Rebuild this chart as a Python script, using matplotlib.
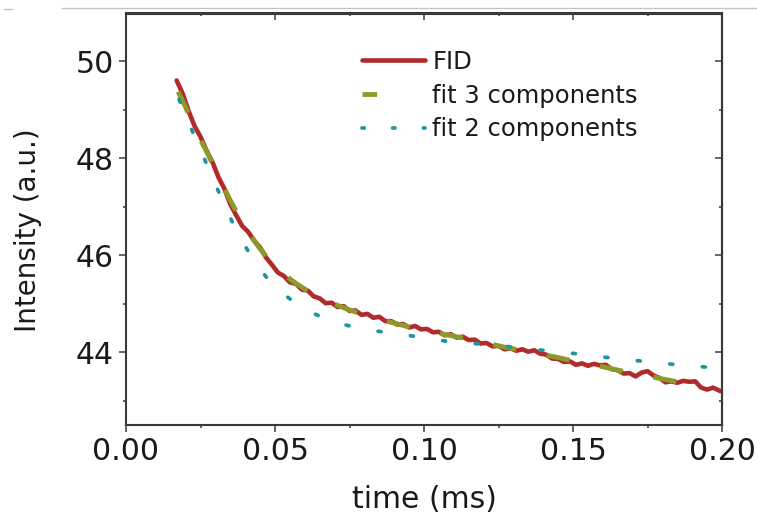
import matplotlib
matplotlib.use("Agg")
import matplotlib.pyplot as plt
from matplotlib.lines import Line2D
from matplotlib.ticker import MultipleLocator, FormatStrFormatter

# ---------------- data ----------------
t_fid = [0.017, 0.019, 0.021, 0.023, 0.025, 0.027, 0.029, 0.031, 0.033, 0.035,
         0.037, 0.039, 0.041, 0.043, 0.045, 0.047, 0.049, 0.051, 0.053, 0.055,
         0.057, 0.059, 0.061, 0.063, 0.065, 0.067, 0.069, 0.071, 0.073, 0.075,
         0.077, 0.079, 0.081, 0.083, 0.085, 0.087, 0.089, 0.091, 0.093, 0.095,
         0.097, 0.099, 0.101, 0.103, 0.105, 0.107, 0.109, 0.111, 0.113, 0.115,
         0.117, 0.119, 0.121, 0.123, 0.125, 0.127, 0.129, 0.131, 0.133, 0.135,
         0.137, 0.139, 0.141, 0.143, 0.145, 0.147, 0.149, 0.151, 0.153, 0.155,
         0.157, 0.159, 0.161, 0.163, 0.165, 0.167, 0.169, 0.171, 0.173, 0.175,
         0.177, 0.179, 0.181, 0.183, 0.185, 0.187, 0.189, 0.191, 0.193, 0.195,
         0.197, 0.199, 0.200]
fid = [49.60, 49.33, 48.97, 48.66, 48.44, 48.16, 47.92, 47.61, 47.37, 47.05,
       46.82, 46.60, 46.48, 46.30, 46.16, 45.95, 45.80, 45.64, 45.57, 45.44,
       45.41, 45.29, 45.27, 45.15, 45.11, 45.01, 45.02, 44.93, 44.95, 44.85,
       44.86, 44.77, 44.79, 44.71, 44.73, 44.64, 44.64, 44.57, 44.58, 44.51,
       44.54, 44.47, 44.48, 44.41, 44.42, 44.35, 44.37, 44.30, 44.32, 44.25,
       44.26, 44.18, 44.19, 44.12, 44.13, 44.06, 44.08, 44.03, 44.06, 44.01,
       44.04, 43.97, 43.95, 43.87, 43.86, 43.80, 43.81, 43.74, 43.77, 43.72,
       43.76, 43.73, 43.74, 43.65, 43.63, 43.56, 43.57, 43.50, 43.58, 43.61,
       43.52, 43.47, 43.38, 43.40, 43.37, 43.41, 43.39, 43.40, 43.27, 43.23,
       43.27, 43.21, 43.19]

t_fit3 = [0.0175, 0.020, 0.0225, 0.025, 0.0275, 0.030, 0.0325, 0.035, 0.0375, 0.040,
          0.0425, 0.045, 0.0475, 0.050, 0.0525, 0.055, 0.0575, 0.060, 0.0625, 0.065,
          0.0675, 0.070, 0.0725, 0.075, 0.0775, 0.080, 0.085, 0.090, 0.095, 0.100,
          0.105, 0.110, 0.115, 0.120, 0.125, 0.130, 0.135, 0.140, 0.145, 0.150,
          0.155, 0.160, 0.165, 0.170, 0.175, 0.180, 0.185, 0.190]
fit3 = [49.37, 49.05, 48.70, 48.38, 48.08, 47.76, 47.44, 47.13, 46.85, 46.58,
        46.34, 46.13, 45.94, 45.77, 45.63, 45.51, 45.40, 45.30, 45.21, 45.13,
        45.06, 44.99, 44.93, 44.87, 44.82, 44.77, 44.68, 44.60, 44.52, 44.45,
        44.39, 44.33, 44.27, 44.20, 44.13, 44.07, 44.01, 43.95, 43.89, 43.82,
        43.76, 43.70, 43.63, 43.57, 43.51, 43.45, 43.39, 43.33]

t_fit2 = [0.0178, 0.0215, 0.0254, 0.0293, 0.0332, 0.0373, 0.0427, 0.0494, 0.0593,
          0.0687, 0.0783, 0.0880, 0.0978, 0.1070, 0.1168, 0.1263, 0.1359, 0.1454,
          0.1549, 0.1644, 0.1741, 0.1837, 0.1934, 0.200]
fit2 = [49.21, 48.66, 48.12, 47.55, 47.02, 46.46, 45.91, 45.36, 44.90,
        44.64, 44.49, 44.40, 44.32, 44.23, 44.18, 44.13, 44.06, 44.01,
        43.94, 43.87, 43.81, 43.75, 43.70, 43.66]

labels = ["FID", "fit 3 components", "fit 2 components"]
x_ticks = [0.00, 0.05, 0.10, 0.15, 0.20]
y_ticks = [44, 46, 48, 50]

# ---------------- style ----------------
RED = "#b22b2b"
GREEN = "#8c9a2c"
TEAL = "#1c969e"
SPINE = "#3a3a3a"

plt.rcParams["font.family"] = ["DejaVu Sans"]

fig = plt.figure(figsize=(7.57, 5.15), dpi=100)
ax = fig.add_axes([126 / 757, 1 - 425 / 515, (722 - 126) / 757, (425 - 13.5) / 515])

ax.plot(t_fid, fid, color=RED, lw=3.3, solid_capstyle="round", solid_joinstyle="round", zorder=2)
ax.plot(t_fit3, fit3, color=GREEN, lw=3.5, dashes=(4.8, 6.4), dash_capstyle="butt", zorder=3)
ax.plot(t_fit2, fit2, color=TEAL, lw=2.7, dashes=(0.8, 7.9), dash_capstyle="round", zorder=4)

ax.set_xlim(0.0, 0.2)
ax.set_ylim(42.5, 50.98)
ax.set_xticks(x_ticks)
ax.set_yticks(y_ticks)
ax.xaxis.set_major_formatter(FormatStrFormatter("%.2f"))
ax.xaxis.set_minor_locator(MultipleLocator(0.025))
ax.yaxis.set_minor_locator(MultipleLocator(1))

for s in ax.spines.values():
    s.set_color(SPINE)
    s.set_linewidth(1.5)

ax.tick_params(which="major", direction="out", length=5, width=1.1, color=SPINE,
               labelsize=21.5, pad=4, labelcolor="#1a1a1a")
ax.tick_params(which="minor", direction="out", length=2.5, width=1.1, color=SPINE)

# mirrored ticks pointing inward on top and right
top = ax.secondary_xaxis("top")
top.set_xticks(x_ticks)
top.xaxis.set_minor_locator(MultipleLocator(0.025))
top.tick_params(which="major", direction="in", length=5, width=1.1, color=SPINE, labeltop=False)
top.tick_params(which="minor", direction="in", length=2.5, width=1.1, color=SPINE)
top.spines["top"].set_color(SPINE)
top.spines["top"].set_linewidth(1.5)
right = ax.secondary_yaxis("right")
right.set_yticks(y_ticks)
right.yaxis.set_minor_locator(MultipleLocator(1))
right.tick_params(which="major", direction="in", length=5, width=1.1, color=SPINE, labelright=False)
right.tick_params(which="minor", direction="in", length=2.5, width=1.1, color=SPINE)
right.spines["right"].set_color(SPINE)
right.spines["right"].set_linewidth(1.5)

ax.set_xlabel("time (ms)", fontsize=21.5, color="#1a1a1a")
ax.set_ylabel("Intensity (a.u.)", fontsize=20, color="#1a1a1a")
ax.xaxis.set_label_coords(0.5, -0.145)
ax.yaxis.set_label_coords(-0.141, 0.474)

handles = [
    Line2D([], [], color=RED, lw=3.3, solid_capstyle="round"),
    Line2D([], [], color=GREEN, lw=3.5, dashes=(3.0, 30), dash_capstyle="butt"),
    Line2D([], [], color=TEAL, lw=2.7, dashes=(0.6, 7.6), dash_capstyle="round"),
]
leg = ax.legend(handles, labels, loc="upper left", bbox_to_anchor=(362 / 757, 1 - 50 / 515),
                bbox_transform=fig.transFigure, frameon=False, fontsize=17.5,
                handlelength=2.6, handletextpad=0.3, labelspacing=0.4, borderpad=0,
                borderaxespad=0)
for txt in leg.get_texts():
    txt.set_color("#1a1a1a")

# light gray line at the very top of the image (crop artefact)
fig.add_artist(Line2D([62 / 757, 1.0], [1 - 7.5 / 515] * 2, color="#c4c4c4", lw=1.0))
fig.add_artist(Line2D([4 / 757, 12 / 757], [1 - 8.5 / 515] * 2, color="#c4c4c4", lw=1.0))

fig.savefig("out.png", dpi=100)
